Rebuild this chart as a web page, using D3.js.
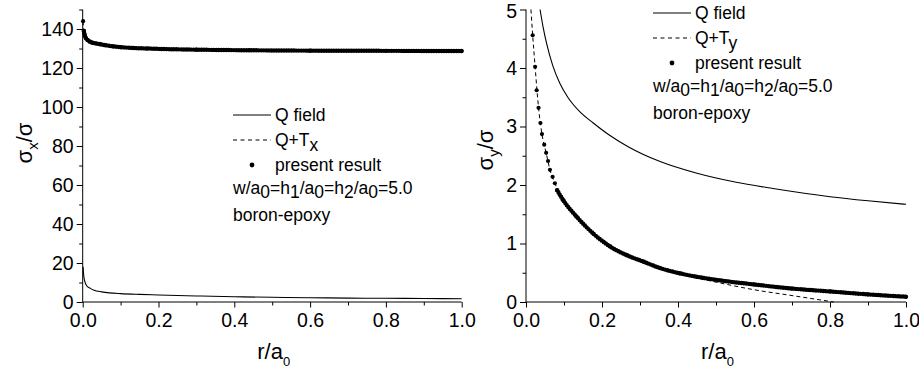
<!DOCTYPE html>
<html>
<head>
<meta charset="utf-8">
<script src="https://cdn.jsdelivr.net/npm/d3@7"></script>
<style>
  body { margin: 0; background: #fff; }
  text { font-family: "Liberation Sans", Arial, sans-serif; fill: #000; }
</style>
</head>
<body>
<div id="chart"></div>
<script>
// tick values
const xTicks = [0, 0.2, 0.4, 0.6, 0.8, 1.0]
const xMinor = [0.1, 0.3, 0.5, 0.7, 0.9]
const yTicksLeft = [0, 20, 40, 60, 80, 100, 120, 140]
const yMinorLeft = [10, 30, 50, 70, 90, 110, 130, 150]
const yTicksRight = [0, 1, 2, 3, 4, 5]
const yMinorRight = [0.5, 1.5, 2.5, 3.5, 4.5]

// left panel: sigma_x / sigma
const rQLeft = [0.001, 0.003, 0.005, 0.01, 0.02, 0.03, 0.05, 0.07, 0.1, 0.15, 0.2, 0.3, 0.4, 0.5, 0.6, 0.7, 0.8, 0.9, 1.0]
const qFieldLeft = [18, 13, 11, 8.5, 7, 6, 5.2, 4.7, 4.3, 3.9, 3.6, 3.1, 2.7, 2.4, 2.2, 2.0, 1.9, 1.8, 1.7]
const rPLeft = [0.001, 0.003, 0.005, 0.008, 0.012, 0.018, 0.025, 0.035, 0.046, 0.06, 0.08, 0.1, 0.13, 0.17, 0.22, 0.3, 0.44, 0.6, 0.8, 1.0]
const presentLeft = [144, 139, 137, 135.5, 134.5, 133.6, 133, 132.6, 132.2, 131.7, 131.1, 130.7, 130.3, 130, 129.7, 129.4, 129.1, 128.9, 128.8, 128.7]
const qtxLeft = presentLeft // Q+Tx sits under the dots

// right panel: sigma_y / sigma
const rQRight = [0.037, 0.045, 0.055, 0.07, 0.089, 0.11, 0.142, 0.177, 0.22, 0.27, 0.353, 0.45, 0.55, 0.65, 0.8, 0.9, 1.0]
const qFieldRight = [5.0, 4.7, 4.4, 4.05, 3.74, 3.5, 3.25, 3.06, 2.85, 2.65, 2.4, 2.2, 2.05, 1.94, 1.8, 1.73, 1.67]
const rTRight = [0.013, 0.0176, 0.024, 0.033, 0.042, 0.053, 0.063, 0.076, 0.098, 0.133, 0.177, 0.221, 0.265, 0.309, 0.353, 0.405, 0.45, 0.5, 0.6, 0.7, 0.8, 0.81]
const qtyRight = [5.0, 4.56, 4.02, 3.32, 2.87, 2.55, 2.26, 2.03, 1.74, 1.46, 1.17, 0.95, 0.8, 0.69, 0.58, 0.48, 0.41, 0.34, 0.21, 0.11, 0.01, 0]
const rPRight = [0.0176, 0.024, 0.028, 0.033, 0.038, 0.042, 0.048, 0.053, 0.058, 0.063, 0.07, 0.076, 0.082, 0.098, 0.133, 0.177, 0.221, 0.265, 0.309, 0.353, 0.405, 0.5, 0.6, 0.7, 0.8, 0.9, 1.0]
const presentRight = [4.56, 4.02, 3.62, 3.32, 3.06, 2.87, 2.69, 2.55, 2.41, 2.26, 2.14, 2.03, 1.91, 1.74, 1.46, 1.17, 0.95, 0.8, 0.69, 0.58, 0.49, 0.38, 0.3, 0.23, 0.18, 0.13, 0.09]

const svg = d3.select("#chart").append("svg")
  .attr("width", 919)
  .attr("height", 371)

const zip = (xs, ys) => xs.map((x, i) => [x, ys[i]])

function drawPanel(p) {
  const x = d3.scaleLinear().domain([0, 1]).range(p.xRange)
  const y = d3.scaleLinear().domain(p.yDomain).range([302, 9.5])
  const g = svg.append("g")

  const line = d3.line().x(d => x(d[0])).y(d => y(d[1])).curve(d3.curveMonotoneX)

  // Q field
  g.append("path").datum(zip(p.rQ, p.qField))
    .attr("fill", "none").attr("stroke", "#000").attr("stroke-width", 1.1)
    .attr("d", line)
  // Q+T
  g.append("path").datum(zip(p.rT, p.qt))
    .attr("fill", "none").attr("stroke", "#000").attr("stroke-width", 1)
    .attr("stroke-dasharray", "4,3")
    .attr("d", line)
  // present result: dense dots drawn as a round-capped dotted trail
  const pts = zip(p.rP, p.present)
  g.append("path").datum(pts.filter(d => d[0] >= p.denseFrom))
    .attr("fill", "none").attr("stroke", "#000").attr("stroke-width", 4.4)
    .attr("stroke-linecap", "round").attr("stroke-dasharray", "0,2.5")
    .attr("d", line)
  g.selectAll(".dot").data(pts).join("circle")
    .attr("cx", d => x(d[0])).attr("cy", d => y(d[1])).attr("r", 2.1)

  // axes
  const xAxis = g.append("g").attr("transform", "translate(0,302)")
    .call(d3.axisBottom(x).tickValues(xTicks).tickSize(5.5).tickPadding(5).tickFormat(d3.format(".1f")))
  g.append("g").attr("transform", "translate(0,302)")
    .call(d3.axisBottom(x).tickValues(xMinor).tickSize(3.5).tickFormat(""))
  const yAxis = g.append("g").attr("transform", `translate(${p.xRange[0]},0)`)
    .call(d3.axisLeft(y).tickValues(p.yTicks).tickSize(6).tickPadding(3).tickFormat(d3.format("d")))
  g.append("g").attr("transform", `translate(${p.xRange[0]},0)`)
    .call(d3.axisLeft(y).tickValues(p.yMinor).tickSize(3.5).tickFormat(""))
  g.selectAll(".domain").attr("d", null)
  g.selectAll(".tick line").attr("stroke", "#000")
  g.append("line").attr("x1", x(0)).attr("x2", x(1)).attr("y1", 302).attr("y2", 302).attr("stroke", "#000")
  g.append("line").attr("x1", x(0)).attr("x2", x(0)).attr("y1", 302).attr("y2", 9.5).attr("stroke", "#000")
  g.selectAll(".tick text").attr("font-size", 19.5).attr("font-family", null)
  xAxis.selectAll(".tick text").attr("dy", "0.75em")
  // keep the top label inside the picture
  yAxis.selectAll(".tick text").filter(d => y(d) < 14).attr("dy", "0.42em")

  // axis titles
  const xt = g.append("text").attr("x", (x(0) + x(1)) / 2 - 15).attr("y", 359).attr("font-size", 22)
  xt.append("tspan").text("r/a")
  xt.append("tspan").attr("dy", 7).attr("font-size", 13).text("0")

  const yt = g.append("text")
    .attr("transform", `translate(${p.yTitleX},${p.yTitleY}) rotate(-90)`)
    .attr("text-anchor", "middle").attr("font-size", 22)
  yt.append("tspan").text("σ")
  yt.append("tspan").attr("dy", 6).attr("font-size", 15).text(p.sub)
  yt.append("tspan").attr("dy", -6).text("/σ")

  // legend
  const lx = p.legX, ly = p.legY, fs = 17.5
  g.append("line").attr("x1", lx).attr("x2", lx + 38).attr("y1", ly).attr("y2", ly).attr("stroke", "#000")
  g.append("text").attr("x", lx + 42).attr("y", ly + 6).attr("font-size", fs).text("Q field")
  g.append("line").attr("x1", lx).attr("x2", lx + 38).attr("y1", ly + 25).attr("y2", ly + 25)
    .attr("stroke", "#000").attr("stroke-dasharray", "4,3.5")
  const qt = g.append("text").attr("x", lx + 42).attr("y", ly + 30.5).attr("font-size", fs)
  qt.append("tspan").text("Q+T")
  qt.append("tspan").attr("dy", 5).text(p.sub)
  g.append("circle").attr("cx", lx + 19).attr("cy", ly + 50).attr("r", 2.4)
  g.append("text").attr("x", lx + 42).attr("y", ly + 55.5).attr("font-size", fs).text("present result")
  const w = g.append("text").attr("x", lx).attr("y", ly + 78.5).attr("font-size", fs)
  const parts = [["w/a", "0"], ["=h", "1"], ["/a", "0"], ["=h", "2"], ["/a", "0"]]
  parts.forEach(([a, b], i) => {
    w.append("tspan").attr("dy", i === 0 ? 0 : -4.5).text(a)
    w.append("tspan").attr("dy", 4.5).text(b)
  })
  w.append("tspan").attr("dy", -4.5).text("=5.0")
  g.append("text").attr("x", lx).attr("y", ly + 106).attr("font-size", fs).text("boron-epoxy")
}

drawPanel({
  xRange: [82.7, 461.7], yDomain: [0, 150], yTicks: yTicksLeft, yMinor: yMinorLeft,
  rQ: rQLeft, qField: qFieldLeft, rT: rPLeft, qt: qtxLeft, rP: rPLeft, present: presentLeft,
  denseFrom: 0.003, sub: "x", yTitleX: 32, yTitleY: 143, legX: 233, legY: 115
})
drawPanel({
  xRange: [526, 906], yDomain: [0, 5], yTicks: yTicksRight, yMinor: yMinorRight,
  rQ: rQRight, qField: qFieldRight, rT: rTRight, qt: qtyRight, rP: rPRight, present: presentRight,
  denseFrom: 0.08, sub: "y", yTitleX: 493, yTitleY: 150, legX: 653, legY: 13
})
</script>
</body>
</html>
